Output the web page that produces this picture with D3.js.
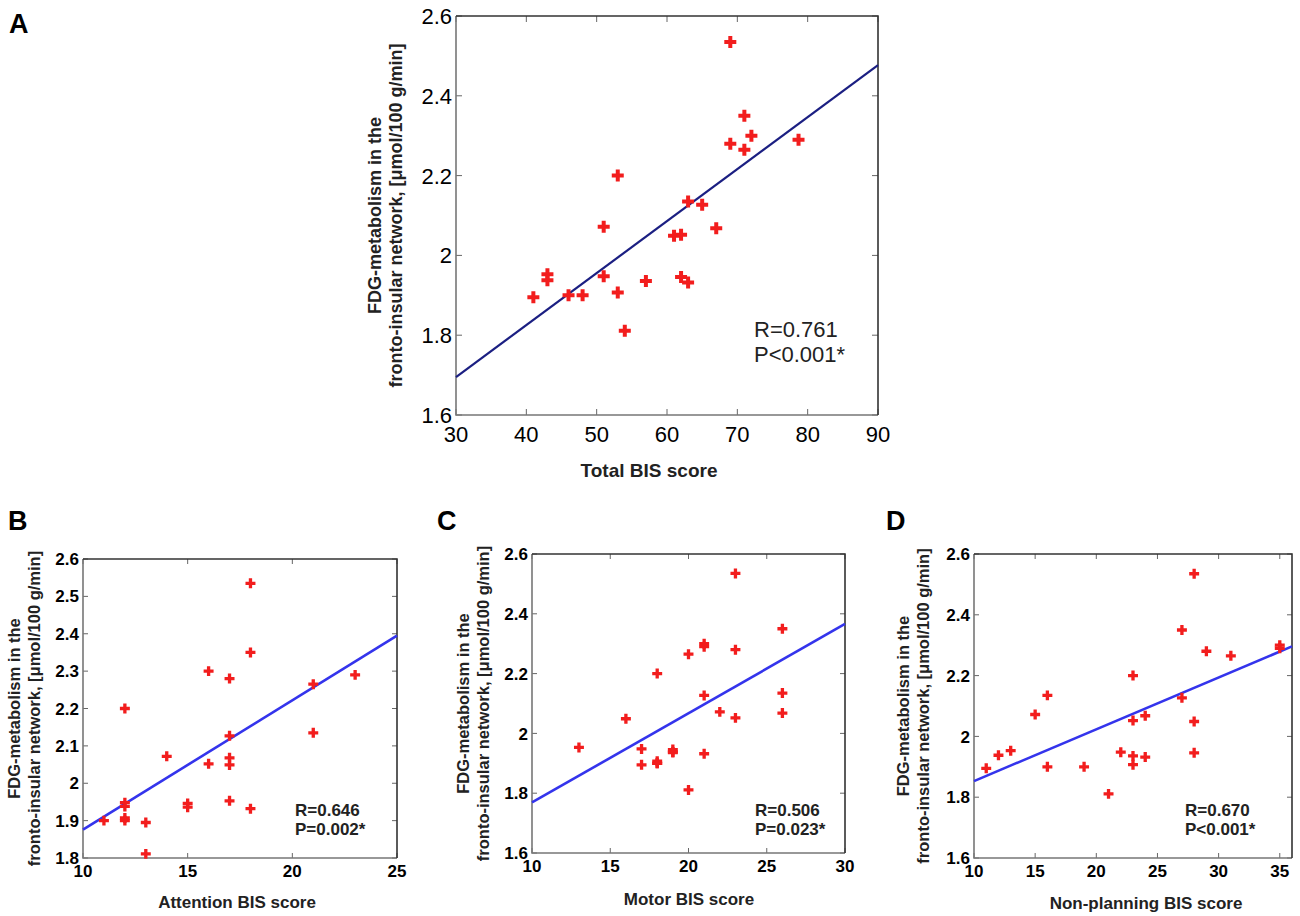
<!DOCTYPE html>
<html lang="en">
<head>
  <meta charset="UTF-8">
  <title>FDG metabolism vs BIS scores</title>
  <script src="https://cdn.jsdelivr.net/npm/d3@7"></script>
  <style>
    body { margin: 0; background: #fff; font-family: 'Liberation Sans', Arial, sans-serif; }
  </style>
</head>
<body>
  <script>
    // FDG-metabolism in the fronto-insular network, one value per subject
    const fdg = [2.535, 2.35, 2.30, 2.28, 2.29, 2.265, 2.20, 2.135, 2.127, 2.072, 2.068, 2.049,
                 2.052, 1.953, 1.938, 1.948, 1.946, 1.932, 1.936, 1.907, 1.895, 1.90, 1.90, 1.811];
    // BIS scores of the same subjects
    const totalBIS     = [69, 71, 72, 69, 78.7, 71, 53, 63, 65, 51, 67, 61, 62, 43, 43, 51, 62, 63, 57, 53, 41, 46, 48, 54];
    const attentionBIS = [18, 18, 16, 17, 23, 21, 12, 21, 17, 14, 17, 17, 16, 17, 12, 12, 15, 18, 15, 12, 13, 12, 11, 13];
    const motorBIS     = [23, 26, 21, 23, 21, 20, 18, 26, 21, 22, 26, 16, 23, 13, 19, 17, 19, 21, 19, 18, 17, 18, 18, 20];
    const nonplanBIS   = [28, 27, 35, 29, 35, 31, 23, 16, 27, 15, 24, 28, 23, 13, 12, 22, 28, 24, 23, 23, 11, 16, 19, 21];

    // regression line end points
    const fitA = [[30, 1.695], [90, 2.477]];
    const fitB = [[10, 1.876], [25, 2.395]];
    const fitC = [[10, 1.769], [30, 2.366]];
    const fitD = [[10, 1.853], [36, 2.296]];

    const xTicksA = [30, 40, 50, 60, 70, 80, 90];
    const yTicksA = [1.6, 1.8, 2.0, 2.2, 2.4, 2.6];
    const xTicksB = [10, 15, 20, 25];
    const yTicksB = [1.8, 1.9, 2.0, 2.1, 2.2, 2.3, 2.4, 2.5, 2.6];
    const xTicksC = [10, 15, 20, 25, 30];
    const xTicksD = [10, 15, 20, 25, 30, 35];
    const yTicksCD = [1.6, 1.8, 2.0, 2.2, 2.4, 2.6];

    const statsA = ["R=0.761", "P<0.001*"];
    const statsB = ["R=0.646", "P=0.002*"];
    const statsC = ["R=0.506", "P=0.023*"];
    const statsD = ["R=0.670", "P<0.001*"];

    const yLabel = ["FDG-metabolism in the", "fronto-insular network, [\u03bcmol/100 g/min]"];

    const svg = d3.select("body").append("svg")
        .attr("width", 1300)
        .attr("height", 916);

    const fmt = d => String(+d.toFixed(1));

    function panel(o) {
      const x = d3.scaleLinear().domain(o.xDomain).range([o.left, o.right]);
      const y = d3.scaleLinear().domain(o.yDomain).range([o.bottom, o.top]);
      const g = svg.append("g");

      // letter
      g.append("text")
          .attr("x", o.letter[1]).attr("y", o.letter[2])
          .attr("font-size", 27).attr("font-weight", "bold")
          .text(o.letter[0]);

      // ticks on all four sides, pointing inwards
      const tl = o.tickLen;
      const tg = g.append("g").attr("stroke", "#666").attr("stroke-width", 1);
      o.xTicks.forEach(t => {
        tg.append("line").attr("x1", x(t)).attr("x2", x(t)).attr("y1", o.bottom).attr("y2", o.bottom - tl);
        tg.append("line").attr("x1", x(t)).attr("x2", x(t)).attr("y1", o.top).attr("y2", o.top + tl);
      });
      o.yTicks.forEach(t => {
        tg.append("line").attr("x1", o.left).attr("x2", o.left + tl).attr("y1", y(t)).attr("y2", y(t));
        tg.append("line").attr("x1", o.right).attr("x2", o.right - tl).attr("y1", y(t)).attr("y2", y(t));
      });

      // box
      g.append("path")
          .attr("d", `M${o.left},${o.top}V${o.bottom}H${o.right}`)
          .attr("fill", "none").attr("stroke", "#777").attr("stroke-width", 1.6);
      g.append("path")
          .attr("d", `M${o.left},${o.top}H${o.right}V${o.bottom}`)
          .attr("fill", "none").attr("stroke", "#333").attr("stroke-width", 1.6);

      // tick labels
      g.append("g")
          .attr("font-size", o.tickSize).attr("font-weight", o.tickWeight)
          .attr("text-anchor", "middle")
        .selectAll("text").data(o.xTicks).join("text")
          .attr("x", d => x(d)).attr("y", o.bottom + o.xLabelDy)
          .text(fmt);
      g.append("g")
          .attr("font-size", o.tickSize).attr("font-weight", o.tickWeight)
          .attr("text-anchor", "end")
        .selectAll("text").data(o.yTicks).join("text")
          .attr("x", o.left - 4).attr("y", d => y(d)).attr("dy", "0.36em")
          .text(fmt);

      // axis titles
      g.append("text")
          .attr("x", o.titleX).attr("y", o.titleY)
          .attr("text-anchor", "middle")
          .attr("font-size", o.titleSize).attr("font-weight", "bold")
          .attr("fill", "#222")
          .text(o.xTitle);
      const cy = (o.top + o.bottom) / 2;
      yLabel.forEach((s, i) => {
        g.append("text")
            .attr("transform", `translate(${o.yLabelX[i]},${cy}) rotate(-90)`)
            .attr("text-anchor", "middle")
            .attr("font-size", o.yLabelSize).attr("font-weight", "bold")
            .attr("fill", "#222")
            .text(s);
      });

      // fit line
      g.append("line")
          .attr("x1", x(o.fit[0][0])).attr("y1", y(o.fit[0][1]))
          .attr("x2", x(o.fit[1][0])).attr("y2", y(o.fit[1][1]))
          .attr("stroke", o.lineColor).attr("stroke-width", o.lineWidth);

      // points
      g.append("g").attr("fill", "#f21d1d")
        .selectAll("path").data(o.xs).join("path")
          .attr("transform", (d, i) => `translate(${x(d)},${y(fdg[i])})`)
          .attr("d", d3.symbol(d3.symbolCross, o.markSize));

      // stats text
      g.append("g")
          .attr("font-size", o.statSize).attr("font-weight", o.tickWeight)
          .attr("fill", "#222")
        .selectAll("text").data(o.stats).join("text")
          .attr("x", o.statX).attr("y", (d, i) => o.statY + i * o.statGap)
          .text(d => d);
    }

    panel({
      letter: ["A", 9, 33],
      left: 456, right: 878, top: 16, bottom: 415,
      xDomain: [30, 90], yDomain: [1.6, 2.6],
      xTicks: xTicksA, yTicks: yTicksA, tickLen: 6,
      tickSize: 22, tickWeight: "normal", xLabelDy: 27,
      xTitle: "Total BIS score", titleX: 649, titleY: 477, titleSize: 19,
      yLabelX: [381, 402], yLabelSize: 18,
      fit: fitA, lineColor: "#1b1f82", lineWidth: 2.2,
      xs: totalBIS, markSize: 80,
      stats: statsA, statX: 754, statY: 337, statGap: 25, statSize: 22
    });

    panel({
      letter: ["B", 8, 530],
      left: 83, right: 397, top: 559, bottom: 858,
      xDomain: [10, 25], yDomain: [1.8, 2.6],
      xTicks: xTicksB, yTicks: yTicksB, tickLen: 5,
      tickSize: 17, tickWeight: "bold", xLabelDy: 19,
      xTitle: "Attention BIS score", titleX: 237, titleY: 908, titleSize: 17,
      yLabelX: [20, 40], yLabelSize: 16.5,
      fit: fitB, lineColor: "#3434ec", lineWidth: 2.6,
      xs: attentionBIS, markSize: 55,
      stats: statsB, statX: 295, statY: 816, statGap: 19, statSize: 17
    });

    panel({
      letter: ["C", 437, 530],
      left: 532, right: 845, top: 554, bottom: 853,
      xDomain: [10, 30], yDomain: [1.6, 2.6],
      xTicks: xTicksC, yTicks: yTicksCD, tickLen: 5,
      tickSize: 17, tickWeight: "bold", xLabelDy: 19,
      xTitle: "Motor BIS score", titleX: 689, titleY: 905, titleSize: 17,
      yLabelX: [469, 489], yLabelSize: 16.5,
      fit: fitC, lineColor: "#3434ec", lineWidth: 2.6,
      xs: motorBIS, markSize: 55,
      stats: statsC, statX: 755, statY: 816, statGap: 19, statSize: 17
    });

    panel({
      letter: ["D", 886, 530],
      left: 974, right: 1292, top: 554, bottom: 858,
      xDomain: [10, 36], yDomain: [1.6, 2.6],
      xTicks: xTicksD, yTicks: yTicksCD, tickLen: 5,
      tickSize: 17, tickWeight: "bold", xLabelDy: 19,
      xTitle: "Non-planning BIS score", titleX: 1146, titleY: 909, titleSize: 17,
      yLabelX: [909, 929], yLabelSize: 16.5,
      fit: fitD, lineColor: "#3434ec", lineWidth: 2.6,
      xs: nonplanBIS, markSize: 55,
      stats: statsD, statX: 1185, statY: 816, statGap: 19, statSize: 17
    });
  </script>
</body>
</html>
